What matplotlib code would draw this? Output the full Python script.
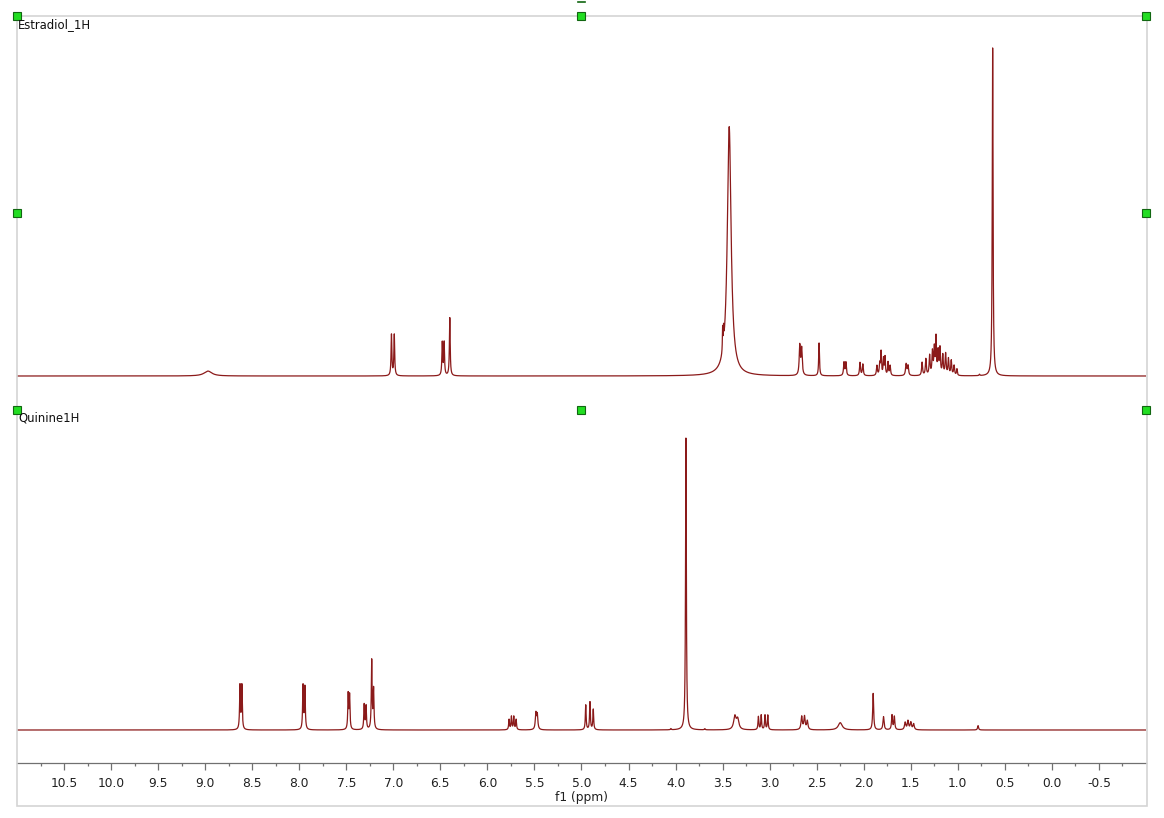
import numpy as np
import matplotlib.pyplot as plt
from matplotlib.patches import Rectangle

######## DATA ########

# Estradiol_1H peak list (ppm, relative height, half-width in ppm)
estradiol_ppm = [8.97, 7.02, 6.99, 6.48, 6.46, 6.40, 3.43, 3.50, 3.49, 2.68, 2.66, 2.475,
                 2.21, 2.19, 2.04, 2.01, 1.86, 1.83, 1.816, 1.79, 1.774, 1.742, 1.72,
                 1.55, 1.53, 1.38, 1.34, 1.30, 1.27, 1.25, 1.232, 1.21, 1.19, 1.16,
                 1.13, 1.10, 1.07, 1.04, 1.01, 0.77, 0.63]
estradiol_height = [0.015, 0.125, 0.125, 0.10, 0.10, 0.177, 0.76, 0.07, 0.05, 0.09, 0.08, 0.10,
                    0.04, 0.04, 0.04, 0.035, 0.03, 0.035, 0.07, 0.05, 0.055, 0.04, 0.03,
                    0.035, 0.03, 0.04, 0.05, 0.06, 0.07, 0.08, 0.11, 0.07, 0.08, 0.06,
                    0.065, 0.05, 0.045, 0.03, 0.02, 0.004, 1.0]
estradiol_width = [0.05, 0.005, 0.005, 0.005, 0.005, 0.005, 0.024, 0.003, 0.003, 0.007, 0.007, 0.005,
                   0.006, 0.006, 0.006, 0.006, 0.006, 0.006, 0.005, 0.005, 0.005, 0.005, 0.006,
                   0.007, 0.007, 0.006, 0.006, 0.006, 0.006, 0.006, 0.005, 0.006, 0.006, 0.006,
                   0.006, 0.006, 0.006, 0.006, 0.005, 0.005, 0.005]

# Quinine1H peak list
quinine_ppm = [8.63, 8.61, 7.96, 7.94, 7.48, 7.465, 7.31, 7.29, 7.23, 7.21,
               5.77, 5.745, 5.72, 5.695, 5.485, 5.47, 4.955, 4.91, 4.875, 4.05,
               3.89, 3.69, 3.37, 3.34, 3.12, 3.09, 3.05, 3.02, 2.66, 2.63, 2.60,
               2.25, 1.90, 1.79, 1.70, 1.675, 1.56, 1.53, 1.50, 1.47, 0.785]
quinine_height = [0.15, 0.15, 0.15, 0.145, 0.12, 0.115, 0.085, 0.08, 0.235, 0.135,
                  0.035, 0.045, 0.045, 0.035, 0.055, 0.05, 0.085, 0.095, 0.07, 0.004,
                  1.0, 0.004, 0.045, 0.035, 0.045, 0.05, 0.05, 0.05, 0.045, 0.045, 0.03,
                  0.025, 0.125, 0.045, 0.05, 0.045, 0.025, 0.03, 0.025, 0.02, 0.015]
quinine_width = [0.005, 0.005, 0.005, 0.005, 0.005, 0.005, 0.005, 0.005, 0.005, 0.005,
                 0.005, 0.005, 0.005, 0.005, 0.007, 0.007, 0.005, 0.005, 0.005, 0.005,
                 0.005, 0.005, 0.015, 0.015, 0.005, 0.005, 0.005, 0.005, 0.008, 0.008, 0.008,
                 0.025, 0.006, 0.007, 0.006, 0.006, 0.008, 0.008, 0.008, 0.008, 0.006]

spectrum_names = ["Estradiol_1H", "Quinine1H"]
tick_values = [10.5, 10.0, 9.5, 9.0, 8.5, 8.0, 7.5, 7.0, 6.5, 6.0, 5.5, 5.0, 4.5,
               4.0, 3.5, 3.0, 2.5, 2.0, 1.5, 1.0, 0.5, 0.0, -0.5]

PPM_LEFT, PPM_RIGHT = 11.0, -1.0
LINE_COLOR = "#8b1a1a"
W, H = 1164, 818


def lorentz_sum(x, pos, height, width):
    y = np.zeros_like(x)
    for p, h, w in zip(pos, height, width):
        y += h / (1 + ((x - p) / w) ** 2)
    return y


def px_axes(fig, left, top, right, bottom):
    return fig.add_axes([left / W, 1 - bottom / H, (right - left) / W, (bottom - top) / H])


######## PLOT ########

fig = plt.figure(figsize=(W / 100, H / 100), dpi=100)
x = np.linspace(PPM_LEFT, PPM_RIGHT, 60000)

# top spectrum: baseline at 376 px, max at 48 px
ax_top = px_axes(fig, 17, 16, 1146, 410)
y_top = lorentz_sum(x, estradiol_ppm, estradiol_height, estradiol_width)
ax_top.plot(x, y_top, color=LINE_COLOR, linewidth=0.9)
ax_top.set_xlim(PPM_LEFT, PPM_RIGHT)
ax_top.set_ylim(-34 / 328, 360 / 328)
ax_top.axis("off")

# bottom spectrum: baseline at 730 px, max at 438 px
ax_bot = px_axes(fig, 17, 410, 1146, 763)
y_bot = lorentz_sum(x, quinine_ppm, quinine_height, quinine_width)
ax_bot.plot(x, y_bot, color=LINE_COLOR, linewidth=0.9)
ax_bot.set_xlim(PPM_LEFT, PPM_RIGHT)
ax_bot.set_ylim(-33 / 292, 320 / 292)
for side in ["top", "left", "right"]:
    ax_bot.spines[side].set_visible(False)
ax_bot.spines["bottom"].set_color("#707070")
ax_bot.spines["bottom"].set_linewidth(0.9)
ax_bot.set_yticks([])
ax_bot.set_xticks(tick_values)
ax_bot.set_xticklabels([f"{t:.1f}" for t in tick_values])
ax_bot.set_xticks(np.arange(10.75, -1.0, -0.5), minor=True)
ax_bot.tick_params(axis="x", which="major", direction="out", length=5, width=0.9,
                   color="#707070", labelsize=8.8, pad=5, labelcolor="#202020")
ax_bot.tick_params(axis="x", which="minor", direction="out", length=2.5, width=0.9,
                   color="#707070")
ax_bot.set_xlabel("f1 (ppm)", fontsize=8.8, labelpad=1, color="#202020")

# overlay in pixel coordinates for frame, names and selection handles
ov = fig.add_axes([0, 0, 1, 1], facecolor="none")
ov.set_xlim(0, W)
ov.set_ylim(H, 0)
ov.axis("off")
ov.add_patch(Rectangle((17, 16), 1130, 790, fill=False, edgecolor="#d4d4d4", linewidth=1.2))
ov.text(18, 25, spectrum_names[0], fontsize=8.4, va="center", ha="left", color="#101010")
ov.text(18, 418, spectrum_names[1], fontsize=8.4, va="center", ha="left", color="#101010")

handle_x = [17, 581, 1146, 17, 1146, 17, 581, 1146]
handle_y = [16, 16, 16, 213, 213, 410, 410, 410]
ov.plot(handle_x, handle_y, linestyle="none", marker="s", markersize=6,
        markerfacecolor="#22dd22", markeredgecolor="#116611", markeredgewidth=0.8)
ov.plot([578, 585], [2, 2], color="#116611", linewidth=1.2)

fig.savefig("out.png", dpi=100)
